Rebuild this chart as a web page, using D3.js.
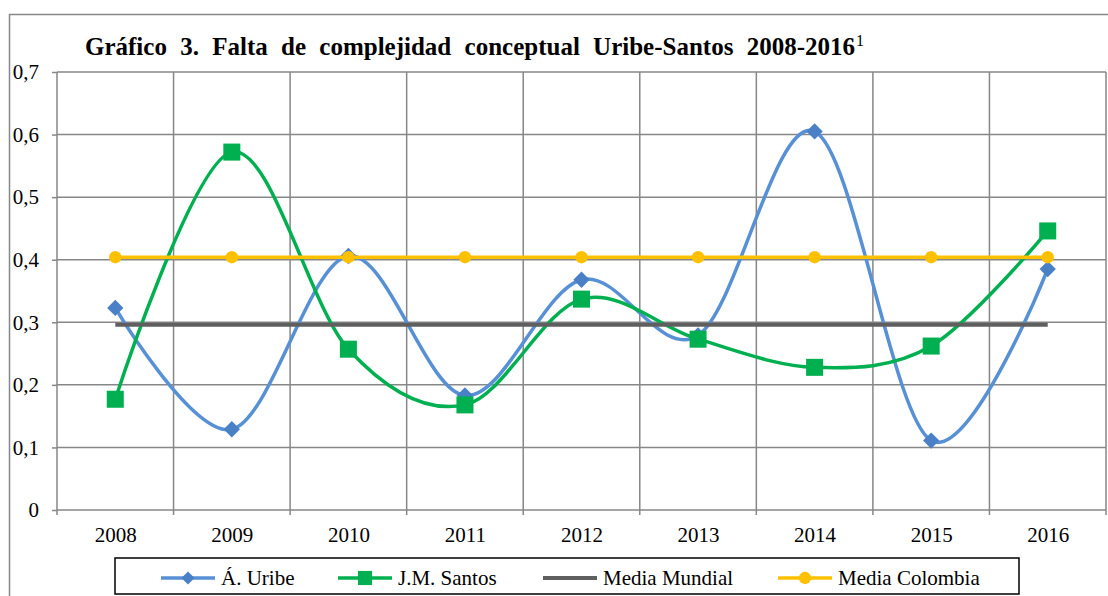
<!DOCTYPE html>
<html>
<head>
<meta charset="utf-8">
<script src="https://cdn.jsdelivr.net/npm/d3@7"></script>
<style>
  body { margin: 0; background: #fff; }
  svg text { font-family: "Liberation Serif", "Times New Roman", serif; fill: #000; }
</style>
</head>
<body>
<div id="chart"></div>
<script>
// Data
const years = ['2008', '2009', '2010', '2011', '2012', '2013', '2014', '2015', '2016'];
const uribe = [0.323, 0.129, 0.406, 0.183, 0.368, 0.279, 0.605, 0.111, 0.385];
const santos = [0.177, 0.572, 0.257, 0.168, 0.337, 0.273, 0.228, 0.262, 0.446];
const mediaMundial = [0.296, 0.296, 0.296, 0.296, 0.296, 0.296, 0.296, 0.296, 0.296];
const mediaColombia = [0.404, 0.404, 0.404, 0.404, 0.404, 0.404, 0.404, 0.404, 0.404];
const yTicks = [0, 0.1, 0.2, 0.3, 0.4, 0.5, 0.6, 0.7];

const W = 1108, H = 596;
const plot = { left: 57, right: 1106, top: 72, bottom: 510 };
const gridColor = '#878787';

const svg = d3.select('#chart').append('svg')
    .attr('width', W)
    .attr('height', H);

// Outer chart border (runs off the right and bottom edges)
svg.append('rect')
    .attr('x', 9.5).attr('y', 14.5)
    .attr('width', W + 20).attr('height', H + 20)
    .attr('fill', 'none')
    .attr('stroke', gridColor)
    .attr('stroke-width', 1.5);

// Scales
const x = d3.scalePoint()
    .domain(years)
    .range([plot.left, plot.right])
    .padding(0.5);
const step = x.step();

const y = d3.scaleLinear()
    .domain([0, 0.7])
    .range([plot.bottom, plot.top]);

// Y axis with tick marks
const yAxis = svg.append('g')
    .attr('transform', `translate(${plot.left},0)`)
    .call(d3.axisLeft(y)
        .tickValues(yTicks)
        .tickSize(5)
        .tickPadding(13)
        .tickFormat(d => d === 0 ? '0' : d.toFixed(1).replace('.', ',')));
yAxis.select('.domain').remove();
yAxis.selectAll('line').attr('stroke', gridColor).attr('stroke-width', 1.5);
yAxis.selectAll('text').style('font-size', '21px');

// Horizontal gridlines
svg.append('g').selectAll('line')
    .data(yTicks)
    .join('line')
    .attr('x1', plot.left).attr('x2', plot.right)
    .attr('y1', d => y(d)).attr('y2', d => y(d))
    .attr('stroke', gridColor)
    .attr('stroke-width', 1.5);

// Vertical gridlines at category boundaries
const bounds = d3.range(years.length + 1);
svg.append('g').selectAll('line')
    .data(bounds)
    .join('line')
    .attr('x1', i => plot.left + i * step).attr('x2', i => plot.left + i * step)
    .attr('y1', plot.top).attr('y2', plot.bottom + 5)
    .attr('stroke', gridColor)
    .attr('stroke-width', 1.5);

// X axis labels
const xAxis = svg.append('g')
    .attr('transform', `translate(0,${plot.bottom})`)
    .call(d3.axisBottom(x).tickSize(0).tickPadding(17));
xAxis.select('.domain').remove();
xAxis.selectAll('text').style('font-size', '21px');

// Series
const series = [
    { name: 'Á. Uribe', values: uribe, color: '#5890d6', marker: 'diamond', mcolor: '#4a80c6', width: 3.5, smooth: true },
    { name: 'J.M. Santos', values: santos, color: '#00b050', marker: 'square', mcolor: '#00b050', width: 3.5, smooth: true },
    { name: 'Media Mundial', values: mediaMundial, color: '#5f5f5f', marker: null, width: 4, smooth: false },
    { name: 'Media Colombia', values: mediaColombia, color: '#ffc000', marker: 'circle', mcolor: '#ffc000', width: 3.5, smooth: false }
];

const symbolFor = {
    diamond: d3.symbol().type(d3.symbolDiamond2).size(170),
    square: d3.symbol().type(d3.symbolSquare).size(290),
    circle: d3.symbol().type(d3.symbolCircle).size(120)
};

series.forEach(s => {
    const line = d3.line()
        .x((d, i) => x(years[i]))
        .y(d => y(d))
        .curve(s.smooth ? d3.curveCatmullRom.alpha(0) : d3.curveLinear);

    svg.append('path')
        .datum(s.values)
        .attr('d', line)
        .attr('fill', 'none')
        .attr('stroke', s.color)
        .attr('stroke-width', s.width)
        .attr('stroke-linejoin', 'round');

    if (s.marker) {
        svg.append('g').selectAll('path')
            .data(s.values)
            .join('path')
            .attr('transform', (d, i) => `translate(${x(years[i])},${y(d)})`)
            .attr('d', symbolFor[s.marker])
            .attr('fill', s.mcolor);
    }
});

// Title - stretched with word spacing to span the same width as the original
const title = svg.append('text')
    .attr('x', 85)
    .attr('y', 55)
    .style('font-size', '25px')
    .style('font-weight', 'bold')
    .text('Gráfico 3. Falta de complejidad conceptual Uribe-Santos 2008-2016');
const natural = title.node().getComputedTextLength();
title.style('word-spacing', ((855 - 85 - natural) / 7) + 'px');
const titleEnd = 85 + title.node().getComputedTextLength();
svg.append('text')
    .attr('x', Math.max(titleEnd, 855) + 1)
    .attr('y', 46)
    .style('font-size', '16px')
    .text('1');

// Legend
svg.append('rect')
    .attr('x', 115).attr('y', 558)
    .attr('width', 904).attr('height', 36)
    .attr('fill', '#fff')
    .attr('stroke', '#000')
    .attr('stroke-width', 1.5);

const legendPos = [161, 338, 543, 778];
const legendY = 578;
const legendSym = {
    diamond: d3.symbol().type(d3.symbolDiamond2).size(110),
    square: d3.symbol().type(d3.symbolSquare).size(200),
    circle: d3.symbol().type(d3.symbolCircle).size(120)
};

const legend = svg.append('g').selectAll('g')
    .data(series)
    .join('g')
    .attr('transform', (d, i) => `translate(${legendPos[i]},${legendY})`);

legend.append('line')
    .attr('x1', 0).attr('x2', 54)
    .attr('stroke', d => d.color)
    .attr('stroke-width', d => d.width);

legend.filter(d => d.marker)
    .append('path')
    .attr('transform', 'translate(27,0)')
    .attr('d', d => legendSym[d.marker]())
    .attr('fill', d => d.mcolor);

legend.append('text')
    .attr('x', 60)
    .attr('y', 7)
    .style('font-size', '21px')
    .text(d => d.name);
</script>
</body>
</html>
